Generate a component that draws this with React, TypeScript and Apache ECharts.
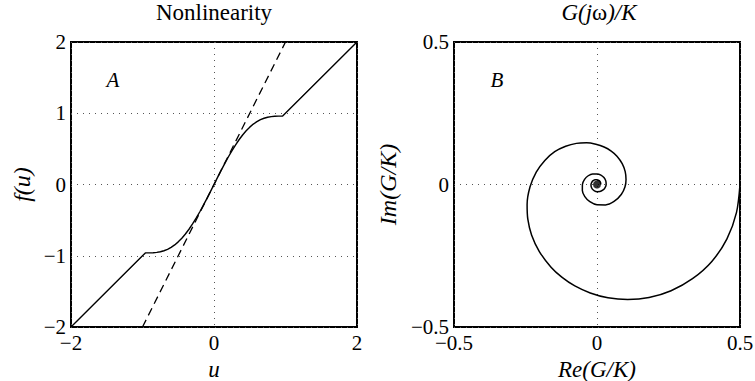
import React, { useEffect, useRef } from "react";
import * as echarts from "echarts";

// Panel A: nonlinearity f(u) (solid) and its linear slope at the origin (dashed)
const uSolid = [
  -2, -0.96, -0.9, -0.85, -0.8, -0.75, -0.7, -0.65, -0.6, -0.55, -0.5, -0.45, -0.4, -0.35, -0.3, -0.25, -0.2, -0.15, -0.1, -0.05,
  0, 0.05, 0.1, 0.15, 0.2, 0.25, 0.3, 0.35, 0.4, 0.45, 0.5, 0.55, 0.6, 0.65, 0.7, 0.75, 0.8, 0.85, 0.9, 0.96, 2,
];
const fSolid = [
  -2, -0.96, -0.96, -0.958, -0.953, -0.944, -0.93, -0.91, -0.882, -0.848, -0.805, -0.754, -0.695, -0.628, -0.554, -0.473, -0.386, -0.294, -0.198, -0.1,
  0, 0.1, 0.198, 0.294, 0.386, 0.473, 0.554, 0.628, 0.695, 0.754, 0.805, 0.848, 0.882, 0.91, 0.93, 0.944, 0.953, 0.958, 0.96, 0.96, 2,
];
const uDashed = [-1, 1];
const fDashed = [-2, 2];

// Panel B: G(jω)/K spiral (real and imaginary parts)
const reG = [
  0.5, 0.4876, 0.4544, 0.4015, 0.3339, 0.259, 0.182, 0.1074, 0.0384, -0.0236, -0.0775, -0.1231, -0.1607, -0.2021, -0.2288,
  -0.2419, -0.2444, -0.2341, -0.2124, -0.1824, -0.1478, -0.1096, -0.072, -0.0365, -0.0039, 0.0249, 0.0497, 0.0698, 0.0881,
  0.0986, 0.1015, 0.0977,
  0.0848, 0.0596, 0.0296, 0, -0.025, -0.0426, -0.0512, -0.051, -0.0435, -0.0307, -0.0153, 0, 0.0137, 0.0243, 0.0307, 0.032,
  0.0278, 0.02, 0.0102, 0, -0.0091, -0.0162, -0.0202, -0.021, -0.0184, -0.0134, -0.0069, 0, 0.0061, 0.0105, 0.0128, 0.013,
];
const imG = [
  0, -0.0987, -0.1906, -0.2698, -0.3305, -0.3727, -0.3967, -0.4037, -0.3975, -0.3805, -0.3559, -0.3249, -0.2902, -0.2344, -0.177,
  -0.1217, -0.07, -0.0081, 0.0436, 0.0846, 0.1152, 0.1342, 0.1443, 0.1461, 0.141, 0.1315, 0.1171, 0.0992, 0.0732,
  0.0453, 0.0174, -0.0088,
  -0.0351, -0.0596, -0.0715, -0.071, -0.0604, -0.0426, -0.0212, 0, 0.018, 0.0307, 0.037, 0.037, 0.033, 0.0243, 0.0127, 0,
  -0.0115, -0.02, -0.0246, -0.025, -0.0221, -0.0162, -0.0084, 0, 0.0076, 0.0134, 0.0165, 0.017, 0.0147, 0.0105, 0.0053, 0,
];
const centerPoint = [[0, 0]];

const titles = ["Nonlinearity", "{i|G(j}{n|ω}{i|)/K}"];
const panelLetters = ["A", "B"];

const FONT = "Liberation Serif";
const minus = (v: number) => String(v).replace("-", "\u2212");

const labelStyle = { fontFamily: FONT, fontSize: 21, color: "#000", margin: 5, formatter: minus };
const nameStyleX = { fontFamily: FONT, fontSize: 23, fontStyle: "italic" as const, color: "#000" };
const nameStyleY = { fontFamily: FONT, fontSize: 24, fontStyle: "italic" as const, color: "#000" };
const split = { show: true, lineStyle: { color: "#555", type: [1, 5] as any, width: 1 } };

export default function App() {
  const ref = useRef<HTMLDivElement>(null);
  useEffect(() => {
    if (!ref.current) return;
    const chart = echarts.init(ref.current, null, { renderer: "svg" });
    const gridBase = {
      top: 42, width: 286, height: 285, show: true, borderColor: "#000", borderWidth: 2,
      containLabel: false, outerBoundsMode: "none",
    };
    chart.setOption({
      animation: false,
      grid: [
        { ...gridBase, left: 71 },
        { ...gridBase, left: 454 },
      ],
      xAxis: [
        {
          gridIndex: 0, type: "value", min: -2, max: 2, interval: 2,
          axisLine: { show: false }, axisTick: { show: false }, axisLabel: labelStyle, splitLine: split,
          name: "u", nameLocation: "middle", nameGap: 29, nameTextStyle: nameStyleX,
        },
        {
          gridIndex: 1, type: "value", min: -0.5, max: 0.5, interval: 0.5,
          axisLine: { show: false }, axisTick: { show: false }, axisLabel: labelStyle, splitLine: split,
          name: "Re(G/K)", nameLocation: "middle", nameGap: 29, nameTextStyle: nameStyleX,
        },
      ],
      yAxis: [
        {
          gridIndex: 0, type: "value", min: -2, max: 2, interval: 1,
          axisLine: { show: false }, axisTick: { show: false }, axisLabel: labelStyle, splitLine: split,
          name: "f(u)", nameLocation: "middle", nameGap: 37, nameTextStyle: nameStyleY,
        },
        {
          gridIndex: 1, type: "value", min: -0.5, max: 0.5, interval: 0.5,
          axisLine: { show: false }, axisTick: { show: false }, axisLabel: labelStyle, splitLine: split,
          name: "Im(G/K)", nameLocation: "middle", nameGap: 54, nameTextStyle: nameStyleY,
        },
      ],
      series: [
        {
          type: "line", xAxisIndex: 0, yAxisIndex: 0, showSymbol: false, silent: true,
          data: uDashed.map((u, i) => [u, fDashed[i]]),
          lineStyle: { color: "#000", width: 1.3, type: [8, 5] },
        },
        {
          type: "line", xAxisIndex: 0, yAxisIndex: 0, showSymbol: false, silent: true,
          data: uSolid.map((u, i) => [u, fSolid[i]]),
          lineStyle: { color: "#000", width: 1.4 },
        },
        {
          type: "line", xAxisIndex: 1, yAxisIndex: 1, showSymbol: false, silent: true, smooth: 0.3,
          data: reG.map((x, i) => [x, imG[i]]),
          lineStyle: { color: "#000", width: 1.5 },
        },
        {
          type: "scatter", xAxisIndex: 1, yAxisIndex: 1, silent: true, symbolSize: 8,
          data: centerPoint, itemStyle: { color: "#000" },
        },
      ],
      graphic: [
        {
          type: "text", x: 214, y: 1,
          style: { text: titles[0], font: `23px "${FONT}"`, fill: "#000", align: "center", verticalAlign: "top" },
        },
        {
          type: "text", x: 599, y: 1,
          style: {
            text: titles[1], fill: "#000", align: "center", verticalAlign: "top",
            rich: {
              i: { fontFamily: FONT, fontSize: 23, fontStyle: "italic", fill: "#000" },
              n: { fontFamily: FONT, fontSize: 23, fill: "#000" },
            },
          },
        },
        {
          type: "text", x: 113, y: 80,
          style: { text: panelLetters[0], font: `italic 21px "${FONT}"`, fill: "#000", align: "center", verticalAlign: "middle" },
        },
        {
          type: "text", x: 497, y: 80,
          style: { text: panelLetters[1], font: `italic 21px "${FONT}"`, fill: "#000", align: "center", verticalAlign: "middle" },
        },
      ],
    });
    return () => chart.dispose();
  }, []);
  return <div ref={ref} style={{ position: "absolute", left: 0, top: 0, width: 755, height: 381 }} />;
}
